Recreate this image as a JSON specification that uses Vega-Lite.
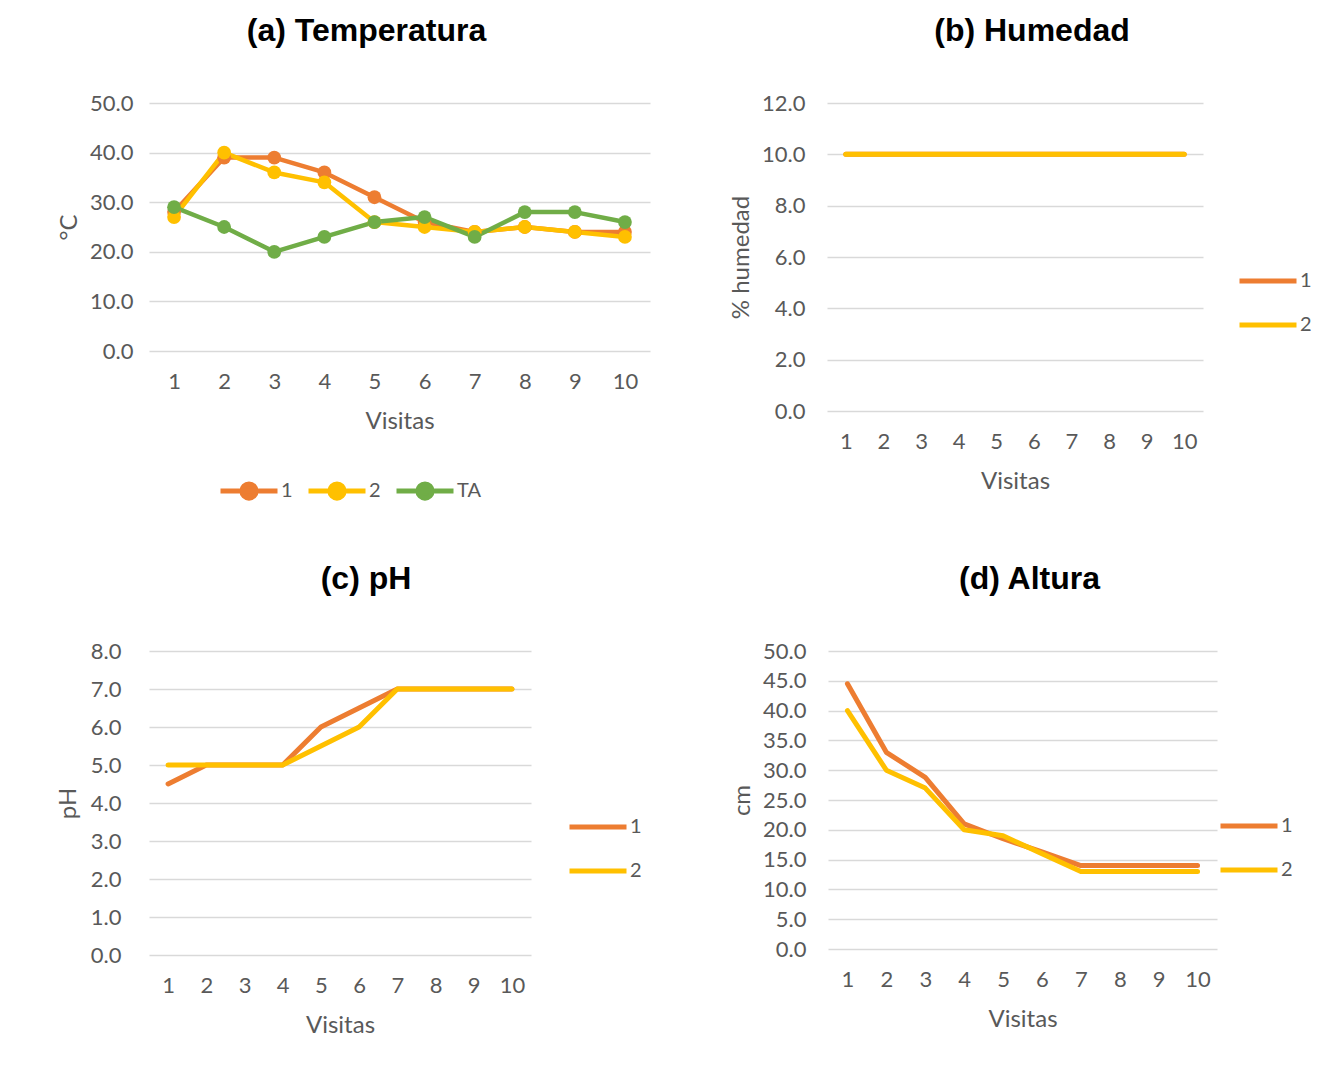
{
  "$schema": "https://vega.github.io/schema/vega-lite/v6.json",
  "background": "white",
  "padding": {"left": 56, "top": 15, "right": 0, "bottom": 0},
  "datasets": {
    "temp": [
      {"visita": 1, "serie": "1", "valor": 28}, {"visita": 2, "serie": "1", "valor": 39}, {"visita": 3, "serie": "1", "valor": 39}, {"visita": 4, "serie": "1", "valor": 36}, {"visita": 5, "serie": "1", "valor": 31},
      {"visita": 6, "serie": "1", "valor": 26}, {"visita": 7, "serie": "1", "valor": 24}, {"visita": 8, "serie": "1", "valor": 25}, {"visita": 9, "serie": "1", "valor": 24}, {"visita": 10, "serie": "1", "valor": 24},
      {"visita": 1, "serie": "2", "valor": 27}, {"visita": 2, "serie": "2", "valor": 40}, {"visita": 3, "serie": "2", "valor": 36}, {"visita": 4, "serie": "2", "valor": 34}, {"visita": 5, "serie": "2", "valor": 26},
      {"visita": 6, "serie": "2", "valor": 25}, {"visita": 7, "serie": "2", "valor": 24}, {"visita": 8, "serie": "2", "valor": 25}, {"visita": 9, "serie": "2", "valor": 24}, {"visita": 10, "serie": "2", "valor": 23},
      {"visita": 1, "serie": "TA", "valor": 29}, {"visita": 2, "serie": "TA", "valor": 25}, {"visita": 3, "serie": "TA", "valor": 20}, {"visita": 4, "serie": "TA", "valor": 23}, {"visita": 5, "serie": "TA", "valor": 26},
      {"visita": 6, "serie": "TA", "valor": 27}, {"visita": 7, "serie": "TA", "valor": 23}, {"visita": 8, "serie": "TA", "valor": 28}, {"visita": 9, "serie": "TA", "valor": 28}, {"visita": 10, "serie": "TA", "valor": 26}
    ],
    "hum": [
      {"visita": 1, "serie": "1", "valor": 10}, {"visita": 2, "serie": "1", "valor": 10}, {"visita": 3, "serie": "1", "valor": 10}, {"visita": 4, "serie": "1", "valor": 10}, {"visita": 5, "serie": "1", "valor": 10},
      {"visita": 6, "serie": "1", "valor": 10}, {"visita": 7, "serie": "1", "valor": 10}, {"visita": 8, "serie": "1", "valor": 10}, {"visita": 9, "serie": "1", "valor": 10}, {"visita": 10, "serie": "1", "valor": 10},
      {"visita": 1, "serie": "2", "valor": 10}, {"visita": 2, "serie": "2", "valor": 10}, {"visita": 3, "serie": "2", "valor": 10}, {"visita": 4, "serie": "2", "valor": 10}, {"visita": 5, "serie": "2", "valor": 10},
      {"visita": 6, "serie": "2", "valor": 10}, {"visita": 7, "serie": "2", "valor": 10}, {"visita": 8, "serie": "2", "valor": 10}, {"visita": 9, "serie": "2", "valor": 10}, {"visita": 10, "serie": "2", "valor": 10}
    ],
    "ph": [
      {"visita": 1, "serie": "1", "valor": 4.5}, {"visita": 2, "serie": "1", "valor": 5}, {"visita": 3, "serie": "1", "valor": 5}, {"visita": 4, "serie": "1", "valor": 5}, {"visita": 5, "serie": "1", "valor": 6},
      {"visita": 6, "serie": "1", "valor": 6.5}, {"visita": 7, "serie": "1", "valor": 7}, {"visita": 8, "serie": "1", "valor": 7}, {"visita": 9, "serie": "1", "valor": 7}, {"visita": 10, "serie": "1", "valor": 7},
      {"visita": 1, "serie": "2", "valor": 5}, {"visita": 2, "serie": "2", "valor": 5}, {"visita": 3, "serie": "2", "valor": 5}, {"visita": 4, "serie": "2", "valor": 5}, {"visita": 5, "serie": "2", "valor": 5.5},
      {"visita": 6, "serie": "2", "valor": 6}, {"visita": 7, "serie": "2", "valor": 7}, {"visita": 8, "serie": "2", "valor": 7}, {"visita": 9, "serie": "2", "valor": 7}, {"visita": 10, "serie": "2", "valor": 7}
    ],
    "alt": [
      {"visita": 1, "serie": "1", "valor": 44.5}, {"visita": 2, "serie": "1", "valor": 33}, {"visita": 3, "serie": "1", "valor": 28.8}, {"visita": 4, "serie": "1", "valor": 21}, {"visita": 5, "serie": "1", "valor": 18.5},
      {"visita": 6, "serie": "1", "valor": 16.3}, {"visita": 7, "serie": "1", "valor": 14}, {"visita": 8, "serie": "1", "valor": 14}, {"visita": 9, "serie": "1", "valor": 14}, {"visita": 10, "serie": "1", "valor": 14},
      {"visita": 1, "serie": "2", "valor": 40}, {"visita": 2, "serie": "2", "valor": 30}, {"visita": 3, "serie": "2", "valor": 27}, {"visita": 4, "serie": "2", "valor": 20}, {"visita": 5, "serie": "2", "valor": 19},
      {"visita": 6, "serie": "2", "valor": 16}, {"visita": 7, "serie": "2", "valor": 13}, {"visita": 8, "serie": "2", "valor": 13}, {"visita": 9, "serie": "2", "valor": 13}, {"visita": 10, "serie": "2", "valor": 13}
    ]
  },
  "config": {
    "view": {"stroke": null},
    "title": {"font": "Liberation Sans", "fontSize": 32, "fontWeight": "bold", "color": "#000000", "baseline": "alphabetic", "anchor": "middle", "frame": "group"},
    "axis": {"labelFont": "Lato", "labelFontSize": 22, "labelColor": "#595959", "titleFont": "Lato", "titleFontSize": 24, "titleColor": "#595959", "titleFontWeight": "normal", "domain": false, "ticks": false, "tickSize": 0, "gridColor": "#D9D9D9", "gridWidth": 1.5},
    "axisX": {"labelPadding": 20, "titlePadding": 17, "grid": false, "labelAngle": 0},
    "axisY": {"labelPadding": 22, "titlePadding": 8},
    "legend": {"labelFont": "Lato", "labelFontSize": 20, "labelColor": "#595959", "padding": 0, "labelOffset": 1},
    "line": {"strokeWidth": 5, "strokeCap": "round", "strokeJoin": "round"}
  },
  "spacing": 62,
  "resolve": {"scale": {"color": "independent"}, "legend": {"color": "independent"}},
  "vconcat": [
    {
      "spacing": 79,
      "resolve": {"scale": {"color": "independent"}, "legend": {"color": "independent"}},
      "hconcat": [
        {
          "width": 501, "height": 248,
          "title": {"text": "(a) Temperatura", "offset": 44, "dx": -33},
          "data": {"name": "temp"},
          "mark": {"type": "line", "strokeWidth": 4.5, "point": {"filled": true, "size": 190, "opacity": 1}},
          "encoding": {
            "x": {"field": "visita", "type": "ordinal", "scale": {"type": "point", "padding": 0.5}, "axis": {"title": "Visitas"}},
            "y": {"field": "valor", "type": "quantitative", "scale": {"domain": [0, 50], "nice": false}, "axis": {"title": "°C", "values": [0, 10, 20, 30, 40, 50], "format": ".1f", "labelPadding": 16, "titlePadding": 8}},
            "color": {"field": "serie", "type": "nominal", "scale": {"domain": ["1", "2", "TA"], "range": ["#ED7D31", "#FFC000", "#70AD47"]},
              "legend": {"title": null, "orient": "none", "legendX": 69, "legendY": 357, "direction": "horizontal", "symbolType": "M-1,0L1,0M0.25,0A0.25,0.25,0,1,1,-0.25,0A0.25,0.25,0,1,1,0.25,0Z", "symbolSize": 3249, "symbolStrokeWidth": 4.5, "columnPadding": 13,
                "encode": {"symbols": {"update": {"fill": {"signal": "datum.value === '1' ? '#ED7D31' : datum.value === '2' ? '#FFC000' : '#70AD47'"}, "fillOpacity": {"value": 1}}}}}}
          }
        },
        {
          "width": 376, "height": 308,
          "title": {"text": "(b) Humedad", "offset": 44, "dx": 17},
          "data": {"name": "hum"},
          "mark": {"type": "line"},
          "encoding": {
            "x": {"field": "visita", "type": "ordinal", "scale": {"type": "point", "padding": 0.5}, "axis": {"title": "Visitas"}},
            "y": {"field": "valor", "type": "quantitative", "scale": {"domain": [0, 12], "nice": false}, "axis": {"title": "% humedad", "values": [0, 2, 4, 6, 8, 10, 12], "format": ".1f"}},
            "color": {"field": "serie", "type": "nominal", "scale": {"domain": ["1", "2"], "range": ["#ED7D31", "#FFC000"]},
              "legend": {"title": null, "orient": "none", "legendX": 410, "legendY": 147, "direction": "vertical", "symbolType": "stroke", "symbolSize": 3249, "symbolStrokeWidth": 5, "rowPadding": 3}}
          }
        }
      ]
    },
    {
      "spacing": 88,
      "resolve": {"scale": {"color": "independent"}, "legend": {"color": "independent"}},
      "hconcat": [
        {
          "width": 382, "height": 304,
          "title": {"text": "(c) pH", "offset": 44, "dx": 26},
          "data": {"name": "ph"},
          "mark": {"type": "line"},
          "encoding": {
            "x": {"field": "visita", "type": "ordinal", "scale": {"type": "point", "padding": 0.5}, "axis": {"title": "Visitas"}},
            "y": {"field": "valor", "type": "quantitative", "scale": {"domain": [0, 8], "nice": false}, "axis": {"title": "pH", "values": [0, 1, 2, 3, 4, 5, 6, 7, 8], "format": ".1f", "labelPadding": 28, "titlePadding": 10}},
            "color": {"field": "serie", "type": "nominal", "scale": {"domain": ["1", "2"], "range": ["#ED7D31", "#FFC000"]},
              "legend": {"title": null, "orient": "none", "legendX": 418, "legendY": 145, "direction": "vertical", "symbolType": "stroke", "symbolSize": 3249, "symbolStrokeWidth": 5, "rowPadding": 3}}
          }
        },
        {
          "width": 389, "height": 298,
          "title": {"text": "(d) Altura", "offset": 44, "dx": 7},
          "data": {"name": "alt"},
          "mark": {"type": "line"},
          "encoding": {
            "x": {"field": "visita", "type": "ordinal", "scale": {"type": "point", "padding": 0.5}, "axis": {"title": "Visitas"}},
            "y": {"field": "valor", "type": "quantitative", "scale": {"domain": [0, 50], "nice": false}, "axis": {"title": "cm", "values": [0, 5, 10, 15, 20, 25, 30, 35, 40, 45, 50], "format": ".1f"}},
            "color": {"field": "serie", "type": "nominal", "scale": {"domain": ["1", "2"], "range": ["#ED7D31", "#FFC000"]},
              "legend": {"title": null, "orient": "none", "legendX": 390, "legendY": 144, "direction": "vertical", "symbolType": "stroke", "symbolSize": 3249, "symbolStrokeWidth": 5, "rowPadding": 3}}
          }
        }
      ]
    }
  ]
}
